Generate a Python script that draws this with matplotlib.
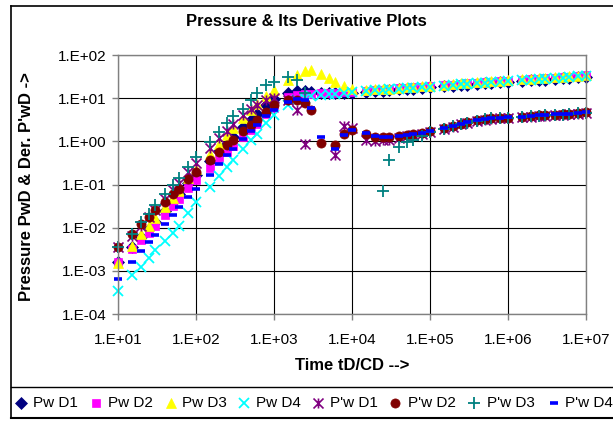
import numpy as np
import matplotlib
matplotlib.use("Agg")
import matplotlib.pyplot as plt
from matplotlib.path import Path
from matplotlib.lines import Line2D
from matplotlib.ticker import FixedLocator, FuncFormatter, NullLocator

plt.rcParams['font.family'] = ['Liberation Sans', 'DejaVu Sans']

nan = float('nan')

# Time tD/CD (shared x values)
time_td = [10, 15, 20, 25, 30, 40, 50, 60, 80,
           100, 150, 200, 250, 300, 400, 500, 600, 800,
           1e3, 1.5e3, 2e3, 2.5e3, 3e3, 4e3, 5e3, 6e3, 8e3,
           1e4, 1.5e4, 2e4, 2.5e4, 3e4, 4e4, 5e4, 6e4, 8e4,
           1e5, 1.5e5, 2e5, 2.5e5, 3e5, 4e5, 5e5, 6e5, 8e5,
           1e6, 1.5e6, 2e6, 2.5e6, 3e6, 4e6, 5e6, 6e6, 8e6,
           1e7]

pwd1 = [1.6e-3, 3.5e-3, 6.0e-3, 9.3e-3, 0.0138, 0.0245, 0.040, 0.059, 0.11,
        0.17, 0.35, 0.59, 0.89, 1.26, 2.1, 3.2, 4.4, 6.9,
        9.8, 13.2, 14.5, 14.8, 14.1, 13.2, 12.9, 12.9, 12.9,
        13.3, 13.9, 14.6, 14.9, 15.2, 16.0, 16.4, 16.7, 17.2,
        17.9, 18.8, 19.5, 20.1, 20.6, 21.2, 21.9, 22.4, 23.1,
        23.8, 24.9, 25.8, 26.3, 27.0, 28.0, 28.8, 29.4, 30.6,
        31.6]
pwd2 = [1.6e-3, 3.2e-3, 5.1e-3, 7.6e-3, 0.0112, 0.020, 0.032, 0.047, 0.083,
        0.126, 0.24, 0.38, 0.58, 0.79, 1.26, 1.82, 2.5, 4.2,
        6.0, 10.5, 12.0, 12.3, 12.6, 12.9, 13.2, 13.5, 13.8,
        14.1, 14.8, 15.5, 15.8, 16.2, 17.0, 17.4, 17.8, 18.3,
        19.0, 20.0, 20.7, 21.4, 21.9, 22.6, 23.3, 23.8, 24.6,
        25.3, 26.5, 27.4, 28.0, 28.7, 29.8, 30.6, 31.3, 32.5,
        33.6]
pwd3 = [1.55e-3, 3.8e-3, 7.1e-3, 0.0112, 0.0166, 0.030, 0.049, 0.072, 0.141,
        0.234, 0.50, 0.89, 1.41, 2.0, 3.55, 5.4, 7.4, 11.2,
        15.5, 26, 35, 43, 45, 37, 29, 24, 19,
        16.6, 15.2, 16.0, 16.3, 16.7, 17.5, 17.9, 18.3, 18.8,
        19.6, 20.6, 21.3, 22.0, 22.6, 23.3, 24.0, 24.5, 25.3,
        26.1, 27.3, 28.2, 28.8, 29.6, 30.7, 31.5, 32.2, 33.5,
        34.6]
pwd4 = [3.4e-4, 7.8e-4, 1.26e-3, 2.0e-3, 3.0e-3, 5.0e-3, 7.6e-3, 0.0107, 0.022,
        0.040, 0.087, 0.158, 0.25, 0.36, 0.66, 1.05, 1.5, 2.7,
        4.0, 6.9, 8.9, 10.2, 11.0, 11.7, 12.3, 12.6, 13.2,
        13.8, 14.5, 15.2, 15.5, 15.9, 16.7, 17.1, 17.4, 17.9,
        18.6, 19.6, 20.3, 21.0, 21.5, 22.1, 22.8, 23.3, 24.1,
        24.8, 26.0, 26.9, 27.4, 28.1, 29.2, 30.0, 30.7, 31.9,
        32.9]
dpwd1 = [3.5e-3, 6.3e-3, 0.0112, 0.0178, 0.026, 0.047, 0.076, 0.11, 0.20,
         0.32, 0.69, 1.17, 1.78, 2.5, 4.0, 5.6, 7.1, 8.9,
         10.0, 8.9, 5.2, 0.89, nan, nan, nan, 0.47, 2.3,
         2.0, 1.05, 1.0, 1.05, 1.1, 1.2, 1.3, 1.38, 1.5,
         1.62, 1.92, 2.20, 2.47, 2.64, 2.97, 3.18, 3.33, 3.41,
         3.41, 3.57, 3.73, 3.82, 3.91, 4.00, 4.10, 4.20, 4.39,
         4.49]
dpwd2 = [3.5e-3, 7.2e-3, 0.012, 0.0178, 0.025, 0.040, 0.059, 0.079, 0.132,
         0.195, 0.37, 0.58, 0.81, 1.05, 1.74, 2.4, 3.2, 4.8,
         6.9, 8.9, 9.3, 7.6, 5.2, 0.91, nan, 0.81, 1.45,
         1.86, 1.45, 1.26, 1.23, 1.26, 1.35, 1.41, 1.48, 1.58,
         1.70, 2.0, 2.29, 2.57, 2.75, 3.09, 3.31, 3.47, 3.55,
         3.55, 3.72, 3.89, 3.98, 4.07, 4.17, 4.27, 4.37, 4.57,
         4.68]
dpwd3 = [3.5e-3, 7.1e-3, 0.0132, 0.021, 0.034, 0.060, 0.10, 0.145, 0.26,
         0.43, 0.95, 1.66, 2.6, 3.8, 5.6, 9.1, 12.9, 20.0,
         24.0, 31.6, 27.0, 12.9, nan, nan, nan, nan, nan,
         nan, nan, nan, 0.07, 0.36, 0.74, 0.95, 1.07, 1.32,
         1.66, 1.96, 2.25, 2.52, 2.70, 3.03, 3.25, 3.40, 3.48,
         3.48, 3.65, 3.81, 3.90, 3.99, 4.09, 4.18, 4.28, 4.48,
         4.59]
dpwd4 = [6.6e-4, 1.6e-3, 2.9e-3, 4.7e-3, 6.8e-3, 0.012, 0.020, 0.030, 0.050,
         0.079, 0.17, 0.30, 0.47, 0.66, 1.15, 1.74, 2.4, 3.8,
         5.2, 8.3, 9.8, 8.9, 5.8, 1.26, nan, 0.65, 1.38,
         1.86, 1.55, 1.35, 1.25, 1.27, 1.36, 1.42, 1.49, 1.60,
         1.72, 2.02, 2.30, 2.58, 2.76, 3.10, 3.32, 3.48, 3.56,
         3.57, 3.74, 3.90, 4.00, 4.09, 4.19, 4.29, 4.40, 4.60,
         4.72]

labels = ["Pw D1", "Pw D2", "Pw D3", "Pw D4", "P'w D1", "P'w D2", "P'w D3", "P'w D4"]

# Excel-like star marker: X plus vertical bar
star = Path([(-1, -1), (1, 1), (-1, 1), (1, -1), (0, -1), (0, 1)],
            [Path.MOVETO, Path.LINETO, Path.MOVETO, Path.LINETO, Path.MOVETO, Path.LINETO])

styles = [
    dict(marker='D', color='#000080', ms=6.2, mfc='#000080', mec='#000080', mew=0.5),
    dict(marker='s', color='#FF00FF', ms=5.6, mfc='#FF00FF', mec='#FF00FF', mew=0.5),
    dict(marker='^', color='#FFFF00', ms=7.8, mfc='#FFFF00', mec='#FFFF00', mew=0.5),
    dict(marker='x', color='#00FFFF', ms=7.2, mec='#00FFFF', mew=1.3),
    dict(marker=star, color='#800080', ms=7.2, mec='#800080', mew=1.2),
    dict(marker='o', color='#800000', ms=6.6, mfc='#800000', mec='#800000', mew=0.5),
    dict(marker='+', color='#008080', ms=8.2, mec='#008080', mew=1.3),
    dict(marker='_', color='#0000FF', ms=5.5, mec='#0000FF', mew=2.6),
]

series = [pwd1, pwd2, pwd3, pwd4, dpwd1, dpwd2, dpwd3, dpwd4]

W, H = 613, 424
fig = plt.figure(figsize=(W / 100, H / 100), dpi=100)
fig.patch.set_facecolor('white')

L, R, T, B = 118, 586, 55, 314
ax = fig.add_axes([L / W, 1 - B / H, (R - L) / W, (B - T) / H])

for y, st, lab in zip(series, styles, labels):
    ax.plot(time_td, y, linestyle='none', label=lab, clip_on=False, **st)

ax.set_xscale('log')
ax.set_yscale('log')
ax.set_xlim(10, 1e7)
ax.set_ylim(1e-4, 1e2)

xt = [1e1, 1e2, 1e3, 1e4, 1e5, 1e6, 1e7]
yt = [1e-4, 1e-3, 1e-2, 1e-1, 1e0, 1e1, 1e2]
fmt = FuncFormatter(lambda v, p: "1.E%+03d" % int(round(np.log10(v))))
ax.xaxis.set_major_locator(FixedLocator(xt))
ax.yaxis.set_major_locator(FixedLocator(yt))
ax.xaxis.set_minor_locator(NullLocator())
ax.yaxis.set_minor_locator(NullLocator())
ax.xaxis.set_major_formatter(fmt)
ax.yaxis.set_major_formatter(fmt)
ax.tick_params(axis='both', which='major', direction='out', length=4, width=1,
               color='#808080', labelsize=11, pad=4)
ax.tick_params(axis='x', pad=10)
ax.grid(True, which='major', color='black', linewidth=0.8)
ax.set_axisbelow(True)
for s in ax.spines.values():
    s.set_color('#808080')
    s.set_linewidth(1.0)

fig.text(0.5, 1 - 22 / H, "Pressure & Its Derivative Plots", ha='center', va='center',
         fontsize=12, fontweight='bold')
fig.text((L + R) / 2 / W, 1 - 366 / H, "Time tD/CD -->", ha='center', va='center',
         fontsize=12, fontweight='bold')
fig.text(27 / W, 1 - 187 / H, "Pressure PwD & Der. P'wD ->", ha='center', va='center',
         rotation=90, fontsize=12, fontweight='bold')

# Outer chart border and legend separator
fig.add_artist(Line2D([11 / W, 11 / W], [1 - 418 / H, 1 - 6 / H], color='black', lw=1.2,
                      transform=fig.transFigure))
fig.add_artist(Line2D([11 / W, 1.0], [1 - 6 / H, 1 - 6 / H], color='black', lw=1.2,
                      transform=fig.transFigure))
fig.add_artist(Line2D([11 / W, 1.0], [1 - 418 / H, 1 - 418 / H], color='black', lw=1.5,
                      transform=fig.transFigure))
fig.add_artist(Line2D([11 / W, 1.0], [1 - 387 / H, 1 - 387 / H], color='black', lw=1.0,
                      transform=fig.transFigure))

# Legend entries, laid out like the Excel legend
marker_x = [21, 96, 171, 244, 318, 395, 474, 554]
text_x = [33, 108, 182, 256, 330, 408, 487, 565]
ly = 1 - 403 / H
for mx, tx, st, lab in zip(marker_x, text_x, styles, labels):
    fig.add_artist(Line2D([mx / W], [ly], linestyle='none', transform=fig.transFigure, **st))
    fig.text(tx / W, ly, lab, ha='left', va='center', fontsize=11)

fig.savefig('out.png', dpi=100)
